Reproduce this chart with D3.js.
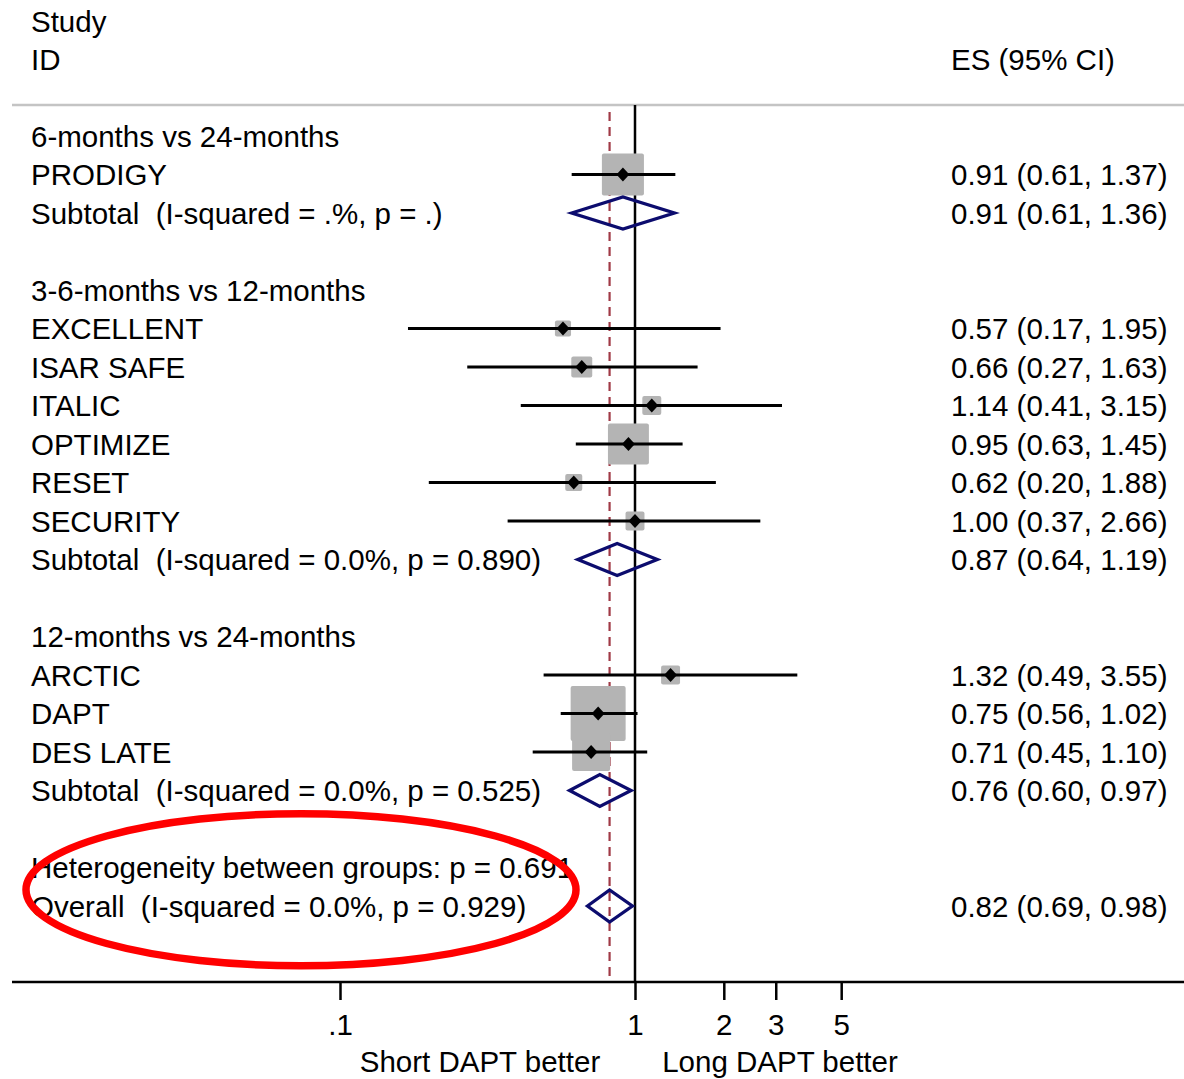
<!DOCTYPE html>
<html>
<head>
<meta charset="utf-8">
<script src="https://cdn.jsdelivr.net/npm/d3@7"></script>
<style>
  html, body { margin: 0; padding: 0; background: #fff; }
  svg { display: block; }
  text { font-family: "Liberation Sans", Arial, sans-serif; fill: #000; white-space: pre; }
</style>
</head>
<body>
<svg id="chart" width="1184" height="1079"></svg>
<script>
// ---------- data ----------
const groupLabels = ["6-months vs 24-months", "3-6-months vs 12-months", "12-months vs 24-months"];
const studyNames  = ["PRODIGY", "EXCELLENT", "ISAR SAFE", "ITALIC", "OPTIMIZE", "RESET", "SECURITY", "ARCTIC", "DAPT", "DES LATE"];
const studyGroup  = [0, 1, 1, 1, 1, 1, 1, 2, 2, 2];
const studyES     = [0.91, 0.57, 0.66, 1.14, 0.95, 0.62, 1.00, 1.32, 0.75, 0.71];
const studyLo     = [0.61, 0.17, 0.27, 0.41, 0.63, 0.20, 0.37, 0.49, 0.56, 0.45];
const studyHi     = [1.37, 1.95, 1.63, 3.15, 1.45, 1.88, 2.66, 3.55, 1.02, 1.10];
const studyWeight = [17.7, 2.6, 4.4, 3.6, 16.8, 2.9, 3.6, 3.6, 30.3, 14.5];
const subLabels   = ["Subtotal  (I-squared = .%, p = .)",
                     "Subtotal  (I-squared = 0.0%, p = 0.890)",
                     "Subtotal  (I-squared = 0.0%, p = 0.525)"];
const subES       = [0.91, 0.87, 0.76];
const subLo       = [0.61, 0.64, 0.60];
const subHi       = [1.36, 1.19, 0.97];
const hetLabel    = "Heterogeneity between groups: p = 0.691";
const overallLabel = "Overall  (I-squared = 0.0%, p = 0.929)";
const overallES = 0.82, overallLo = 0.69, overallHi = 0.98;
const tickValues = [0.1, 1, 2, 3, 5];
const tickLabels = [".1", "1", "2", "3", "5"];
const axisTitles = ["Short DAPT better", "Long DAPT better"];

// ---------- layout ----------
const svg = d3.select("#chart");
const x = d3.scaleLog().domain([0.1, 10]).range([340, 930]);
const y = d3.scaleLinear().domain([0, 20]).range([136, 906]);
const side = d3.scaleSqrt().domain([0, 30.3]).range([0, 55]);
const fmt = d3.format(".2f");
const esText = (e, l, h) => `${fmt(e)} (${fmt(l)}, ${fmt(h)})`;
const FS = 29.5, BASE = 10.5, LABX = 31, ESX = 951;
const axisY = 982;

// build rows
const rows = [];
let r = 0;
groupLabels.forEach((g, gi) => {
  rows.push({type: "header", label: g, row: r++});
  studyNames.forEach((s, i) => {
    if (studyGroup[i] === gi) rows.push({type: "study", label: s, row: r++, es: studyES[i], lo: studyLo[i], hi: studyHi[i], w: studyWeight[i]});
  });
  rows.push({type: "sub", label: subLabels[gi], row: r++, es: subES[gi], lo: subLo[gi], hi: subHi[gi]});
  r++; // blank
});
rows.push({type: "het", label: hetLabel, row: r++});
rows.push({type: "sub", label: overallLabel, row: r++, es: overallES, lo: overallLo, hi: overallHi});

// header
svg.append("text").attr("x", LABX).attr("y", 21 + BASE).attr("font-size", FS).text("Study");
svg.append("text").attr("x", LABX).attr("y", 59 + BASE).attr("font-size", FS).text("ID");
svg.append("text").attr("x", ESX).attr("y", 59 + BASE).attr("font-size", FS).text("ES (95% CI)");
svg.append("line").attr("x1", 12).attr("x2", 1184).attr("y1", 105).attr("y2", 105)
  .attr("stroke", "#c4c4c4").attr("stroke-width", 2.5);

// reference lines
svg.append("line").attr("x1", x(1)).attr("x2", x(1)).attr("y1", 105).attr("y2", axisY)
  .attr("stroke", "#000").attr("stroke-width", 2.5);
svg.append("line").attr("x1", x(overallES)).attr("x2", x(overallES)).attr("y1", 112).attr("y2", axisY)
  .attr("stroke", "#a03a46").attr("stroke-width", 2.2).attr("stroke-dasharray", "9,6");

// study boxes
const st = rows.filter(d => d.type === "study");
svg.append("g").selectAll("rect").data(st).join("rect")
  .attr("x", d => x(d.es) - side(d.w) / 2)
  .attr("y", d => y(d.row) - side(d.w) / 2)
  .attr("width", d => side(d.w)).attr("height", d => side(d.w))
  .attr("rx", 2).attr("fill", "#b4b4b4");
// CI lines
svg.append("g").selectAll("line").data(st).join("line")
  .attr("x1", d => x(d.lo)).attr("x2", d => x(d.hi))
  .attr("y1", d => y(d.row)).attr("y2", d => y(d.row))
  .attr("stroke", "#000").attr("stroke-width", 3.2);
// point diamonds
svg.append("g").selectAll("path").data(st).join("path")
  .attr("d", d => { const cx = x(d.es), cy = y(d.row);
    return `M${cx - 6.5},${cy}L${cx},${cy - 7}L${cx + 6.5},${cy}L${cx},${cy + 7}Z`; })
  .attr("fill", "#000");

// subtotal / overall diamonds
const sb = rows.filter(d => d.type === "sub");
svg.append("g").selectAll("path").data(sb).join("path")
  .attr("d", d => { const cy = y(d.row);
    return `M${x(d.lo)},${cy}L${x(d.es)},${cy - 16}L${x(d.hi)},${cy}L${x(d.es)},${cy + 16}Z`; })
  .attr("fill", "none").attr("stroke", "#0c0c6e").attr("stroke-width", 3.3).attr("stroke-linejoin", "miter");

// labels
svg.append("g").selectAll("text").data(rows).join("text")
  .attr("x", LABX).attr("y", d => y(d.row) + BASE).attr("font-size", FS).text(d => d.label);
svg.append("g").selectAll("text").data(rows.filter(d => d.es !== undefined)).join("text")
  .attr("x", ESX).attr("y", d => y(d.row) + BASE).attr("font-size", FS)
  .text(d => esText(d.es, d.lo, d.hi));

// axis
svg.append("line").attr("x1", 12).attr("x2", 1184).attr("y1", axisY).attr("y2", axisY)
  .attr("stroke", "#000").attr("stroke-width", 2.5);
const axis = d3.axisBottom(x).tickValues(tickValues).tickFormat((d, i) => tickLabels[i])
  .tickSize(18).tickPadding(14);
const ag = svg.append("g").attr("transform", `translate(0,${axisY})`).call(axis);
ag.select(".domain").remove();
ag.selectAll(".tick line").attr("stroke", "#000").attr("stroke-width", 2.5);
ag.selectAll(".tick text").attr("font-size", FS).attr("font-family", "Liberation Sans, Arial, sans-serif").attr("fill", "#000");

svg.append("text").attr("x", 480).attr("y", 1072).attr("text-anchor", "middle").attr("font-size", FS).text(axisTitles[0]);
svg.append("text").attr("x", 780).attr("y", 1072).attr("text-anchor", "middle").attr("font-size", FS).text(axisTitles[1]);

// red ellipse annotation
svg.append("ellipse")
  .attr("cx", 301).attr("cy", (y(19) + y(20)) / 2 + 3)
  .attr("rx", 275).attr("ry", 76)
  .attr("fill", "none").attr("stroke", "#ff0000").attr("stroke-width", 7.5);
</script>
</body>
</html>
